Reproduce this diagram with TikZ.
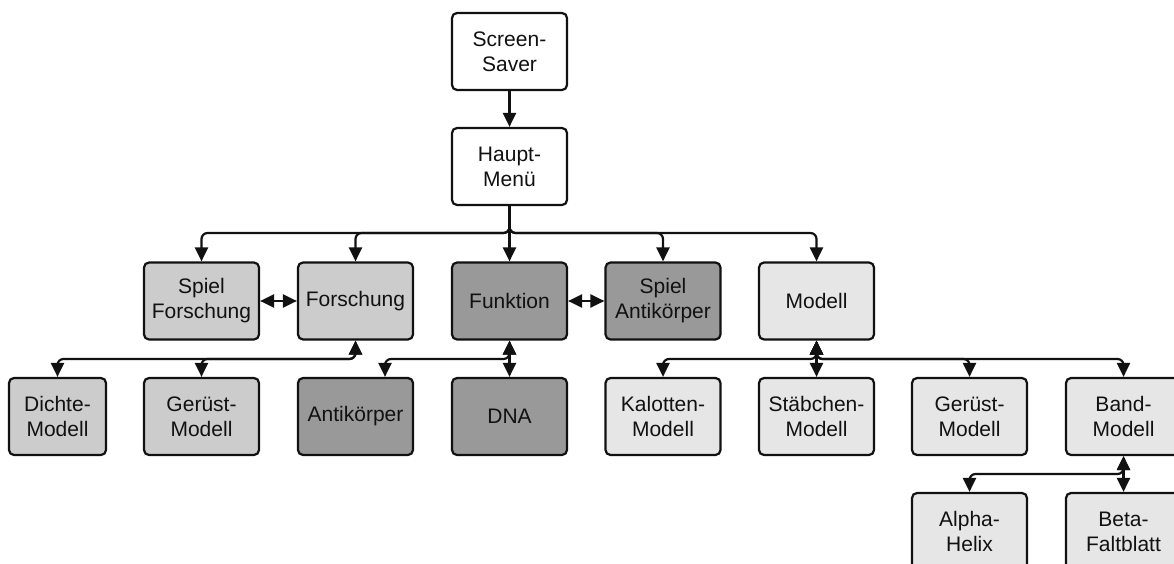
\documentclass[tikz,border=0pt]{standalone}
\usepackage{fontspec}
\setmainfont{Liberation Sans}
\usetikzlibrary{arrows.meta}
\definecolor{grA}{HTML}{CCCCCC}
\definecolor{grB}{HTML}{999999}
\definecolor{grC}{HTML}{E6E6E6}
\definecolor{ink}{HTML}{111111}
\begin{document}
\begin{tikzpicture}[x=1pt,y=-1pt,
  box/.style={draw=ink, line width=2.2pt, rounded corners=5pt,
    minimum width=115pt, minimum height=77pt, inner sep=0pt,
    align=center, text=ink, font=\fontsize{21}{25}\selectfont},
  conn/.style={draw=ink, line width=2.2pt, rounded corners=6pt},
  tip/.tip={Triangle[width=13pt,length=14pt]},
  arr/.style={conn, -tip},
  darr/.style={conn, tip-tip}]
\useasboundingbox (0,0) rectangle (1174,564);
\clip (0,0) rectangle (1174,564);

% top chain
\node[box, fill=white] (saver) at (509.5,51.5) {Screen-\\Saver};
\node[box, fill=white] (haupt) at (509.5,166.5) {Haupt-\\Menü};

% second row
\node[box, fill=grA] (spf)    at (201.5,301) {Spiel\\Forschung};
\node[box, fill=grA] (forsch) at (355.5,301) {Forschung};
\node[box, fill=grB] (funk)   at (509.5,301) {Funktion};
\node[box, fill=grB] (spa)    at (663,301) {Spiel\\Antikörper};
\node[box, fill=grC] (modell) at (816.5,301) {Modell};

% third row
\node[box, fill=grA, minimum width=97pt] (dichte) at (57.5,416.5) {Dichte-\\Modell};
\node[box, fill=grA] (geruestA) at (201.5,416.5) {Gerüst-\\Modell};
\node[box, fill=grB] (anti)  at (355.5,416.5) {Antikörper};
\node[box, fill=grB] (dna)   at (509.5,416.5) {DNA};
\node[box, fill=grC] (kal)   at (663,416.5) {Kalotten-\\Modell};
\node[box, fill=grC] (stab)  at (816.5,416.5) {Stäbchen-\\Modell};
\node[box, fill=grC] (geruestB) at (969.5,416.5) {Gerüst-\\Modell};
\node[box, fill=grC] (band)  at (1123.5,416.5) {Band-\\Modell};

% fourth row
\node[box, fill=grC] (alpha) at (969.5,531.5) {Alpha-\\Helix};
\node[box, fill=grC] (beta)  at (1123.5,531.5) {Beta-\\Faltblatt};

% bus levels
\coordinate (busA) at (0,233);
\coordinate (busB) at (0,359);
\coordinate (busC) at (0,474);

% connectors
\draw[arr] (saver) -- (haupt);

\draw[arr] (haupt.south) |- (busA -| spf.north) -- (spf.north);
\draw[arr] (haupt.south) |- (busA -| forsch.north) -- (forsch.north);
\draw[arr] (haupt.south) -- (funk.north);
\draw[arr] (haupt.south) |- (busA -| spa.north) -- (spa.north);
\draw[arr] (haupt.south) |- (busA -| modell.north) -- (modell.north);

\draw[darr] (spf.east) -- (forsch.west);
\draw[darr] (funk.east) -- (spa.west);

\draw[darr] (forsch.south) |- (busB -| dichte.north) -- (dichte.north);
\draw[darr] (forsch.south) |- (busB -| geruestA.north) -- (geruestA.north);

\coordinate (antiIn) at ([xshift=29.5pt]anti.north);
\draw[darr] (funk.south) |- (busB -| antiIn) -- (antiIn);
\draw[darr] (funk.south) -- (dna.north);

\draw[darr] (modell.south) |- (busB -| kal.north) -- (kal.north);
\draw[darr] (modell.south) -- (stab.north);
\draw[darr] (modell.south) |- (busB -| geruestB.north) -- (geruestB.north);
\draw[darr] (modell.south) |- (busB -| band.north) -- (band.north);

\draw[darr] (band.south) |- (busC -| alpha.north) -- (alpha.north);
\draw[darr] (band.south) -- (beta.north);
\end{tikzpicture}
\end{document}
